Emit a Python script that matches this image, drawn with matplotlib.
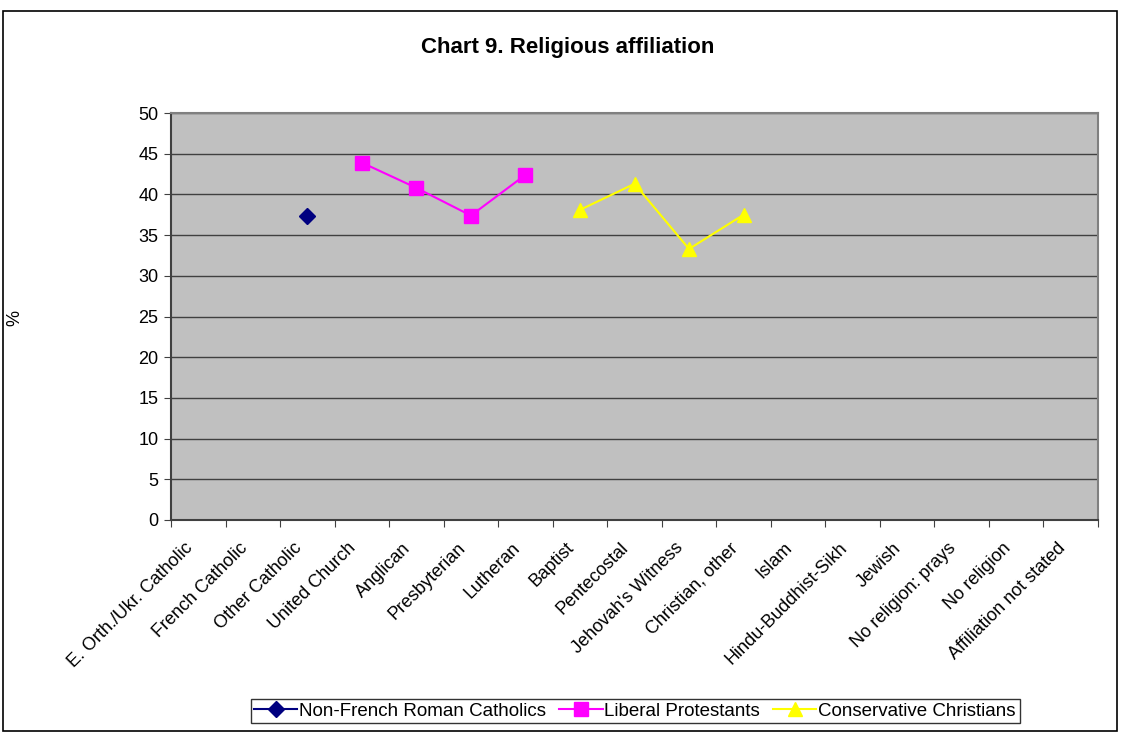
import matplotlib
matplotlib.use("Agg")
import matplotlib.pyplot as plt
import numpy as np
from matplotlib.patches import Rectangle

plt.rcParams['font.family'] = ['Liberation Sans', 'DejaVu Sans']

categories = ["E. Orth./Ukr. Catholic", "French Catholic", "Other Catholic",
              "United Church", "Anglican", "Presbyterian", "Lutheran", "Baptist",
              "Pentecostal", "Jehovah's Witness", "Christian, other", "Islam",
              "Hindu-Buddhist-Sikh", "Jewish", "No religion: prays", "No religion",
              "Affiliation not stated"]

catholic_idx = [2]
catholic_vals = [37.4]
liberal_idx = [3, 4, 5, 6]
liberal_vals = [43.9, 40.8, 37.4, 42.4]
conservative_idx = [7, 8, 9, 10]
conservative_vals = [38.1, 41.3, 33.3, 37.5]
yticks = list(range(0, 51, 5))

W, H = 1137, 733
fig = plt.figure(figsize=(W/100, H/100), dpi=100)
L, R, T, B = 171, 1098, 113, 520
ax = fig.add_axes([L/W, 1-B/H, (R-L)/W, (B-T)/H])
ax.set_facecolor('#C0C0C0')

ax.plot(catholic_idx, catholic_vals, color='#000080', marker='D', markersize=8.5,
        lw=1.5, label='Non-French Roman Catholics')
ax.plot(liberal_idx, liberal_vals, color='#FF00FF', marker='s', markersize=9.5,
        lw=1.5, label='Liberal Protestants')
ax.plot(conservative_idx, conservative_vals, color='#FFFF00', marker='^', markersize=10,
        lw=1.5, label='Conservative Christians')

n = len(categories)
ax.set_xlim(-0.5, n - 0.5)
ax.set_ylim(0, 50)
ax.set_yticks(yticks)
ax.set_yticklabels([str(v) for v in yticks], fontsize=13)
ax.yaxis.grid(True, color='#404040', lw=1)
ax.set_axisbelow(True)

ax.set_xticks(np.arange(-0.5, n, 1.0))
ax.set_xticklabels([])
ax.set_xticks(np.arange(n) - 0.26, minor=True)
ax.set_xticklabels(categories, minor=True, rotation=45, ha='right',
                   rotation_mode='anchor', fontsize=13)
ax.tick_params(axis='x', which='minor', length=0, pad=14)
ax.tick_params(axis='x', which='major', length=5, color='#404040', direction='out')
ax.tick_params(axis='y', length=5, color='#404040', direction='out', pad=4)

for s in ['top', 'right']:
    ax.spines[s].set_color('#808080')
    ax.spines[s].set_linewidth(1.5)
ax.spines['left'].set_color('#404040')
ax.spines['bottom'].set_color('#404040')
ax.spines['left'].set_linewidth(1.5)
ax.spines['bottom'].set_linewidth(1.5)

fig.text(15/W, 1-318/H, '%', rotation=90, ha='center', va='center', fontsize=13)

fig.text(568/W, 1-47/H, 'Chart 9. Religious affiliation', ha='center',
         va='center', fontsize=16, fontweight='bold')

leg = fig.legend(loc='center', bbox_to_anchor=(635/W, 1-711/H), ncol=3,
                 fontsize=13.5, frameon=True, fancybox=False, handlelength=2.3,
                 columnspacing=0.7, handletextpad=0.1, borderpad=0.2,
                 borderaxespad=0, edgecolor='black')
leg.get_frame().set_linewidth(1)

fig.patches.append(Rectangle((3/W, 1-731/H), 1114/W, 720/H,
                             transform=fig.transFigure, fill=False,
                             edgecolor='black', lw=1.2))

fig.savefig('out.png', dpi=100)
